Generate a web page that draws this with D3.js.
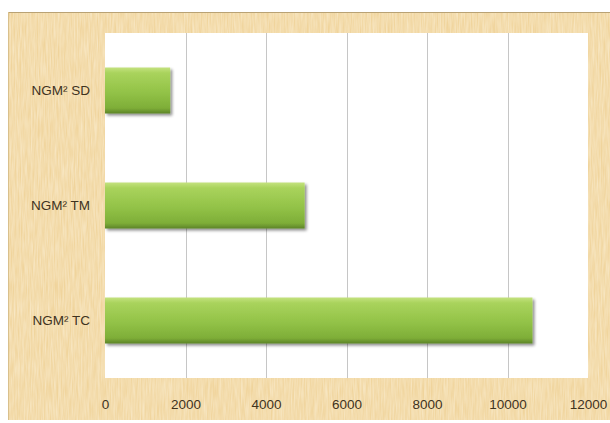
<!DOCTYPE html>
<html>
<head>
<meta charset="utf-8">
<script src="https://cdn.jsdelivr.net/npm/d3@7"></script>
<style>
  html, body { margin: 0; padding: 0; background: #ffffff; }
  svg { display: block; }
</style>
</head>
<body>
<svg id="chart" width="610" height="423"></svg>
<script>
// Data
const categories = ["NGM² SD", "NGM² TM", "NGM² TC"];
const values = [1620, 4960, 10620];
const xTicks = [0, 2000, 4000, 6000, 8000, 10000, 12000];

const frame = { x: 8, y: 12, w: 602, h: 408 };
const plot = { left: 105, top: 33, right: 588, bottom: 378 };

const svg = d3.select("#chart");
const defs = svg.append("defs");

// Parchment texture
const paper = defs.append("filter").attr("id", "paper")
  .attr("x", 0).attr("y", 0).attr("width", "100%").attr("height", "100%");
paper.append("feTurbulence").attr("type", "fractalNoise")
  .attr("baseFrequency", "0.7 0.05").attr("numOctaves", 2).attr("seed", 4).attr("result", "noise");
paper.append("feColorMatrix").attr("in", "noise").attr("type", "matrix")
  .attr("values", "0 0 0 0 0.99  0 0 0 0 0.92  0 0 0 0 0.76  0 0 0 0.8 -0.15")
  .attr("result", "tint");
paper.append("feComposite").attr("in", "tint").attr("in2", "SourceGraphic").attr("operator", "in");

// Bar gradient
const grad = defs.append("linearGradient").attr("id", "barGrad")
  .attr("x1", 0).attr("y1", 0).attr("x2", 0).attr("y2", 1);
[[0, "#c4e27f"], [0.12, "#a9d35c"], [0.55, "#92c247"], [0.88, "#7eae38"], [1, "#5d8428"]]
  .forEach(([o, c]) => grad.append("stop").attr("offset", o).attr("stop-color", c));

const shadow = defs.append("filter").attr("id", "barShadow")
  .attr("x", "-5%").attr("y", "-20%").attr("width", "115%").attr("height", "150%");
shadow.append("feGaussianBlur").attr("in", "SourceAlpha").attr("stdDeviation", 1.5);
shadow.append("feOffset").attr("dx", 1.5).attr("dy", 1.5).attr("result", "sh");
shadow.append("feComponentTransfer").append("feFuncA").attr("type", "linear").attr("slope", 0.45);
const merge = shadow.append("feMerge");
merge.append("feMergeNode");
merge.append("feMergeNode").attr("in", "SourceGraphic");

// Background frame
svg.append("rect").attr("x", frame.x).attr("y", frame.y)
  .attr("width", frame.w).attr("height", frame.h).attr("fill", "#f0d49c");
svg.append("rect").attr("x", frame.x).attr("y", frame.y)
  .attr("width", frame.w).attr("height", frame.h).attr("fill", "#000").attr("filter", "url(#paper)");
svg.append("line").attr("x1", frame.x).attr("x2", frame.x + frame.w)
  .attr("y1", frame.y + 0.5).attr("y2", frame.y + 0.5).attr("stroke", "#b9a274").attr("stroke-width", 1);
svg.append("line").attr("x1", frame.x + 0.5).attr("x2", frame.x + 0.5)
  .attr("y1", frame.y).attr("y2", frame.y + frame.h).attr("stroke", "#d9c08c").attr("stroke-width", 1);

// Plot area
svg.append("rect").attr("x", plot.left).attr("y", plot.top)
  .attr("width", plot.right - plot.left).attr("height", plot.bottom - plot.top)
  .attr("fill", "#ffffff");

const x = d3.scaleLinear().domain([0, 12000]).range([plot.left, plot.right]);
const y = d3.scaleBand().domain(categories).range([plot.top, plot.bottom])
  .paddingInner(0.6).paddingOuter(0.3);

// Vertical gridlines
svg.append("g").selectAll("line").data(xTicks.filter(t => t > 0 && t < 12000)).join("line")
  .attr("x1", d => Math.round(x(d)) + 0.5).attr("x2", d => Math.round(x(d)) + 0.5)
  .attr("y1", plot.top).attr("y2", plot.bottom)
  .attr("stroke", "#c6c6c6").attr("stroke-width", 1);

// Bars
svg.append("g").selectAll("rect").data(categories).join("rect")
  .attr("x", x(0))
  .attr("y", d => y(d))
  .attr("width", (d, i) => x(values[i]) - x(0))
  .attr("height", y.bandwidth())
  .attr("fill", "url(#barGrad)")
  .attr("filter", "url(#barShadow)");

// X axis labels
const xAxis = d3.axisBottom(x).tickValues(xTicks).tickSize(0).tickPadding(0)
  .tickFormat(d3.format("d"));
const gx = svg.append("g").attr("transform", `translate(0,${plot.bottom})`).call(xAxis);
gx.select(".domain").remove();
gx.selectAll("text")
  .attr("y", 26).attr("dy", "0.35em")
  .attr("fill", "#3f331e")
  .style("font-family", "'Liberation Sans', Arial, sans-serif")
  .style("font-size", "13.5px");

// Y axis labels
const yAxis = d3.axisLeft(y).tickSize(0).tickPadding(15);
const gy = svg.append("g").attr("transform", `translate(${plot.left},0)`).call(yAxis);
gy.select(".domain").remove();
gy.selectAll("text")
  .attr("fill", "#3f331e")
  .style("font-family", "'Liberation Sans', Arial, sans-serif")
  .style("font-size", "13.5px");
</script>
</body>
</html>
